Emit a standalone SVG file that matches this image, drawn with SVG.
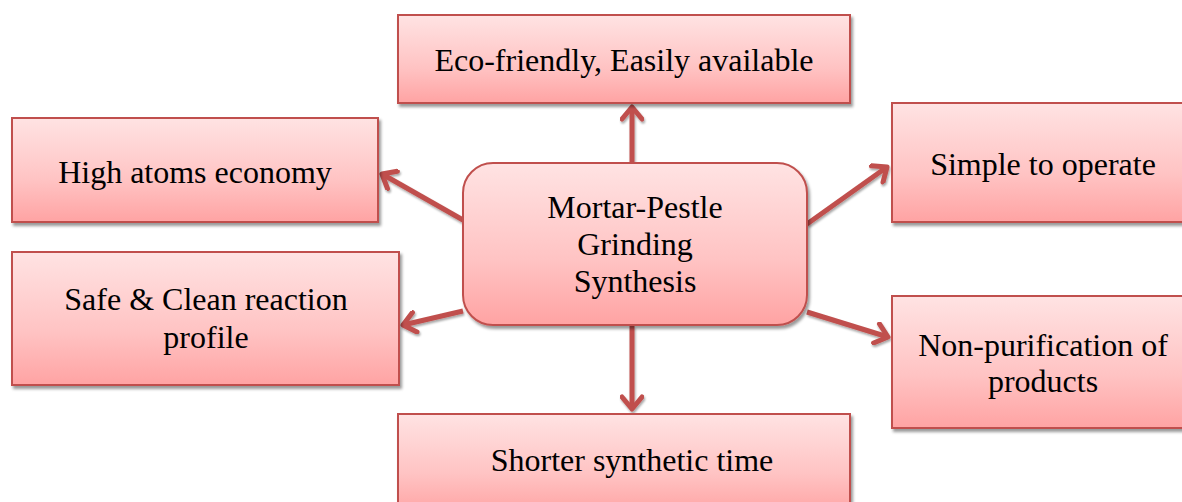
<svg xmlns="http://www.w3.org/2000/svg" width="1182" height="502" viewBox="0 0 1182 502">
<style>
.box{fill:url(#g);stroke:#c0504d;stroke-width:2;filter:url(#sh)}
.c{stroke:#c0504d;stroke-width:5;fill:none;marker-end:url(#ah)}
.t{font-family:'Liberation Serif','Times New Roman',serif;font-size:32px;fill:#000;text-anchor:middle}
</style>
<defs>
<linearGradient id="g" x1="0" y1="0" x2="0" y2="1">
<stop offset="0" stop-color="#ffe3e3"/>
<stop offset="0.6" stop-color="#ffc3c3"/>
<stop offset="1" stop-color="#ffa3a3"/>
</linearGradient>
<filter id="sh" x="-5%" y="-5%" width="115%" height="120%">
<feGaussianBlur in="SourceAlpha" stdDeviation="1.5"/>
<feOffset dx="2" dy="3" result="b"/>
<feFlood flood-color="#000" flood-opacity="0.4"/>
<feComposite in2="b" operator="in"/>
<feMerge><feMergeNode/><feMergeNode in="SourceGraphic"/></feMerge>
</filter>
<filter id="sh2" filterUnits="userSpaceOnUse" x="0" y="0" width="1182" height="502">
<feGaussianBlur in="SourceAlpha" stdDeviation="1"/>
<feOffset dx="1" dy="2" result="b"/>
<feFlood flood-color="#000" flood-opacity="0.35"/>
<feComposite in2="b" operator="in"/>
<feMerge><feMergeNode/><feMergeNode in="SourceGraphic"/></feMerge>
</filter>
<marker id="ah" markerUnits="userSpaceOnUse" viewBox="-16 -12 20 24" refX="0" refY="0" markerWidth="20" markerHeight="24" orient="auto">
<path d="M-12,-10 L0,0 L-12,10" fill="none" stroke="#c0504d" stroke-width="5" stroke-linecap="round" stroke-linejoin="round"/>
</marker>
</defs>
<g id="connectors" filter="url(#sh2)">
<path class="c" d="M632,162 L632,107"/>
<path class="c" d="M463,220 L382,174"/>
<path class="c" d="M463,311 L403,325"/>
<path class="c" d="M807,224 L887,167"/>
<path class="c" d="M807,312 L888,337"/>
<path class="c" d="M632,326 L632,409"/>
</g>
<g id="eco">
<rect class="box" x="398" y="15" width="452" height="88"/>
<text class="t" x="624" y="71">Eco-friendly, Easily available</text>
</g>
<g id="high">
<rect class="box" x="12" y="118" width="366" height="104"/>
<text class="t" x="195" y="183">High atoms economy</text>
</g>
<g id="safe">
<rect class="box" x="12" y="252" width="387" height="133"/>
<text class="t" x="206" y="310">Safe &amp; Clean reaction</text>
<text class="t" x="206" y="348">profile</text>
</g>
<g id="center">
<rect class="box" x="463" y="163" width="344" height="162" rx="30" ry="30"/>
<text class="t" x="635" y="218">Mortar-Pestle</text>
<text class="t" x="635" y="255">Grinding</text>
<text class="t" x="635" y="292">Synthesis</text>
</g>
<g id="simple">
<rect class="box" x="892" y="103" width="292" height="119"/>
<text class="t" x="1043" y="175">Simple to operate</text>
</g>
<g id="nonpur">
<rect class="box" x="892" y="296" width="292" height="132"/>
<text class="t" x="1043" y="356">Non-purification of</text>
<text class="t" x="1043" y="392">products</text>
</g>
<g id="shorter">
<rect class="box" x="398" y="414" width="452" height="100"/>
<text class="t" x="632" y="471">Shorter synthetic time</text>
</g>
</svg>
